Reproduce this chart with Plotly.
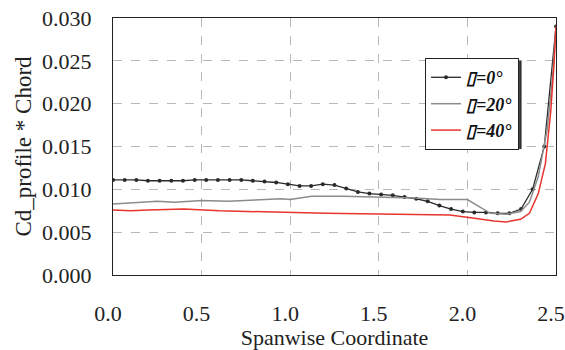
import plotly.graph_objects as go

# ---- data ----
x_0 = [0.000, 0.066, 0.132, 0.197, 0.263, 0.329, 0.395, 0.461, 0.526, 0.592,
       0.658, 0.724, 0.789, 0.855, 0.921, 0.987, 1.053, 1.118, 1.184, 1.250,
       1.316, 1.382, 1.447, 1.513, 1.579, 1.645, 1.711, 1.776, 1.842, 1.908,
       1.974, 2.039, 2.105, 2.171, 2.237, 2.303, 2.368, 2.434, 2.500]
y_0 = [0.0111, 0.0111, 0.0111, 0.0110, 0.0110, 0.0110, 0.0110, 0.0111, 0.0111, 0.0111,
       0.0111, 0.0111, 0.0110, 0.0109, 0.0108, 0.0106, 0.0104, 0.0104, 0.0106, 0.0105,
       0.0101, 0.0097, 0.0095, 0.0094, 0.0093, 0.0091, 0.0089, 0.0086, 0.0081, 0.0077,
       0.0074, 0.0073, 0.0073, 0.0072, 0.0072, 0.0077, 0.0100, 0.0150, 0.0290]

x_20 = [0.0, 0.1, 0.25, 0.35, 0.5, 0.65, 0.85, 0.95, 1.0, 1.12, 1.3, 1.5, 1.7,
        1.85, 2.0, 2.13, 2.22, 2.3, 2.35, 2.4, 2.45, 2.48, 2.5]
y_20 = [0.0083, 0.0084, 0.0086, 0.0085, 0.0087, 0.0086, 0.0088, 0.0089, 0.0088,
        0.0092, 0.0092, 0.0091, 0.0090, 0.0088, 0.0088, 0.0072, 0.0071, 0.0074,
        0.0085, 0.0115, 0.0170, 0.0230, 0.0290]

x_40 = [0.0, 0.1, 0.2, 0.4, 0.6, 0.8, 1.0, 1.2, 1.6, 1.9, 2.05, 2.15, 2.22,
        2.3, 2.35, 2.4, 2.44, 2.47, 2.49, 2.5]
y_40 = [0.0076, 0.0075, 0.0076, 0.0077, 0.0075, 0.0074, 0.0073, 0.0072, 0.0071,
        0.0070, 0.0066, 0.0063, 0.0062, 0.0065, 0.0072, 0.0095, 0.0130, 0.0190,
        0.0250, 0.0290]

names = ["\u25af=0°", "\u25af=20°", "\u25af=40°"]
x_ticks = [0.0, 0.5, 1.0, 1.5, 2.0, 2.5]
x_ticklabels = ["0.0", "0.5", "1.0", "1.5", "2.0", "2.5"]
y_ticks = [0.000, 0.005, 0.010, 0.015, 0.020, 0.025, 0.030]
y_ticklabels = ["0.000", "0.005", "0.010", "0.015", "0.020", "0.025", "0.030"]

serif = "Liberation Serif"
tfont = dict(family=serif, size=22, color="#222")

fig = go.Figure()
fig.add_trace(go.Scatter(x=x_0, y=y_0, name=names[0], mode="lines+markers",
                         line=dict(color="#2a2a2a", width=1.3),
                         marker=dict(size=4, color="#2a2a2a")))
fig.add_trace(go.Scatter(x=x_20, y=y_20, name=names[1], mode="lines",
                         line=dict(color="#8c8c8c", width=1.5)))
fig.add_trace(go.Scatter(x=x_40, y=y_40, name=names[2], mode="lines",
                         line=dict(color="#e8342c", width=1.5)))

# legend shadow (thick right edge)
fig.add_shape(type="line", xref="paper", yref="paper",
              x0=0.9195, x1=0.9195, y0=0.49, y1=0.835,
              line=dict(color="#333", width=2.5), layer="above")

fig.update_layout(
    width=565, height=350,
    margin=dict(l=113, r=9, t=18, b=75),
    paper_bgcolor="white", plot_bgcolor="white",
    font=dict(family=serif, size=22, color="#222"),
    showlegend=True,
    legend=dict(x=0.9165, y=0.844, xanchor="right", yanchor="top",
                bgcolor="white", bordercolor="#222", borderwidth=1,
                font=dict(family=serif, size=18, color="#111", weight="bold", style="italic"),
                tracegroupgap=0, itemwidth=30),
    xaxis=dict(range=[0, 2.5], tickvals=x_ticks, ticktext=x_ticklabels, tickfont=tfont,
               showgrid=True, gridcolor="#b8b8b8", griddash="dash", gridwidth=1,
               showline=True, linecolor="#222", linewidth=1, mirror=True,
               ticks="", ticklabelstandoff=19, ticklabelshift=-5,
               ticklabeloverflow="allow", zeroline=False, automargin=False,
               title=dict(text="Spanwise Coordinate", standoff=0,
                          font=dict(family=serif, size=22))),
    yaxis=dict(range=[0, 0.030], tickvals=y_ticks, ticktext=y_ticklabels, tickfont=tfont,
               showgrid=True, gridcolor="#b8b8b8", griddash="dash", gridwidth=1,
               showline=True, linecolor="#222", linewidth=1, mirror=True,
               ticks="", ticklabelstandoff=16, ticklabeloverflow="allow",
               zeroline=False, automargin=False,
               title=dict(text="Cd_profile * Chord", standoff=4,
                          font=dict(family=serif, size=23))),
)

fig.write_html("out.html", config={"displayModeBar": False},
               post_script="document.body.style.margin='0';document.body.style.padding='0';")
